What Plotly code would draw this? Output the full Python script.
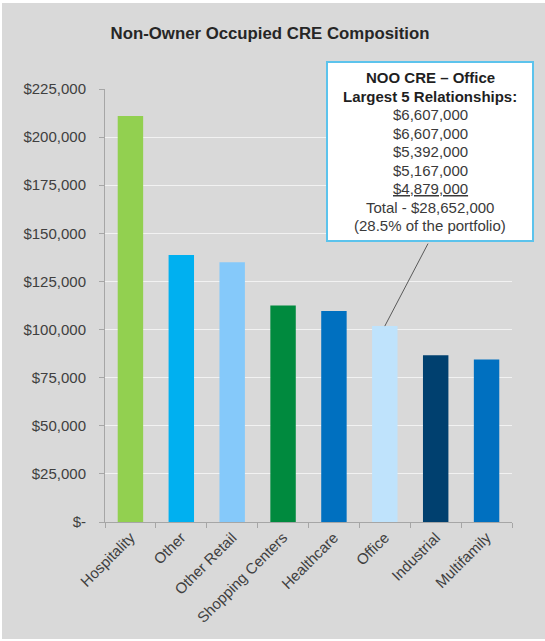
import plotly.graph_objects as go

# ---------------- data ----------------
categories = ["Hospitality", "Other", "Other Retail", "Shopping Centers",
              "Healthcare", "Office", "Industrial", "Multifamily"]
values = [211000, 138700, 135000, 112500, 109700, 101800, 86700, 84400]
bar_colors = ["#92d050", "#00b0f0", "#85c9fa", "#008a3e",
              "#0070c0", "#bfe3fc", "#00406f", "#0070c0"]
y_tickvals = [0, 25000, 50000, 75000, 100000, 125000, 150000, 175000, 200000, 225000]
y_ticktext = ["$-", "$25,000", "$50,000", "$75,000", "$100,000", "$125,000",
              "$150,000", "$175,000", "$200,000", "$225,000"]
title_text = "Non-Owner Occupied CRE Composition"
box_lines = ["<b>NOO CRE – Office</b>", "<b>Largest 5 Relationships:</b>",
             "$6,607,000", "$6,607,000", "$5,392,000", "$5,167,000",
             "<u>$4,879,000</u>", "Total - $28,652,000", "(28.5% of the portfolio)"]
callout_category = "Office"

# ---------------- layout geometry ----------------
W, H = 545, 641
L, R, T, B = 105, 512, 89, 522
FONT = "Arial, Liberation Sans, sans-serif"
BG = "#d9d9d9"


def fx(px):
    return (px - L) / (R - L)


def fy(py):
    return (B - py) / (B - T)


fig = go.Figure()
fig.add_trace(go.Bar(
    x=categories, y=values,
    marker=dict(color=bar_colors, line=dict(width=0)),
    hoverinfo="x+y",
))

shapes = [
    # gray panel
    dict(type="rect", xref="paper", yref="paper", layer="below",
         x0=fx(2), x1=fx(546), y0=fy(639), y1=fy(3),
         fillcolor=BG, line=dict(width=0)),
    # callout box
    dict(type="rect", xref="paper", yref="paper", layer="above",
         x0=fx(327), x1=fx(533), y0=fy(241), y1=fy(62),
         fillcolor="white", line=dict(color="#5cc3ec", width=2)),
]

annotations = []
# connector line from Office bar to the box
ci = categories.index(callout_category)
annotations.append(dict(
    x=callout_category, y=values[ci], xref="x", yref="y",
    text="", showarrow=True, arrowhead=0, arrowwidth=1, arrowcolor="#595959",
    ax=44, ay=-84, standoff=0, startstandoff=0,
))
# box text lines
top_c, step = 77.7, 18.5
for i, line in enumerate(box_lines):
    annotations.append(dict(
        x=fx(430), y=fy(top_c + i * step), xref="paper", yref="paper",
        xanchor="center", yanchor="middle", showarrow=False,
        text=line, font=dict(family=FONT, size=15,
                             color="#1f1f1f" if i < 2 else "#3a3a3a"),
    ))

fig.update_layout(
    width=W, height=H,
    margin=dict(l=L, r=W - R, t=T, b=H - B, autoexpand=False),
    paper_bgcolor="white",
    plot_bgcolor="rgba(0,0,0,0)",
    bargap=0.5,
    showlegend=False,
    font=dict(family=FONT, size=15, color="#404040"),
    title=dict(text="<b>" + title_text + "</b>", x=270 / W, xref="container",
               xanchor="center", y=1 - 33.5 / H, yref="container", yanchor="middle",
               font=dict(family=FONT, size=16.8, color="#262626")),
    shapes=shapes,
    annotations=annotations,
)
fig.update_xaxes(
    type="category", tickangle=-45, automargin=False,
    showline=True, linecolor="#a6a6a6", linewidth=1,
    ticks="outside", tickson="boundaries", ticklen=5, tickcolor="#a6a6a6",
    showgrid=False, tickfont=dict(family=FONT, size=15, color="#404040"),
)
fig.update_yaxes(
    range=[0, 225000], automargin=False,
    tickvals=y_tickvals, ticktext=y_ticktext,
    showline=True, linecolor="#a6a6a6", linewidth=1,
    ticks="outside", ticklen=5, tickcolor="#a6a6a6",
    showgrid=True, gridcolor="#f2f2f2", gridwidth=1,
    zeroline=False, ticklabelstandoff=10,
    tickfont=dict(family=FONT, size=15, color="#404040"),
)

fig.write_html("out.html", config={"displayModeBar": False},
               post_script="document.body.style.margin='0';")
